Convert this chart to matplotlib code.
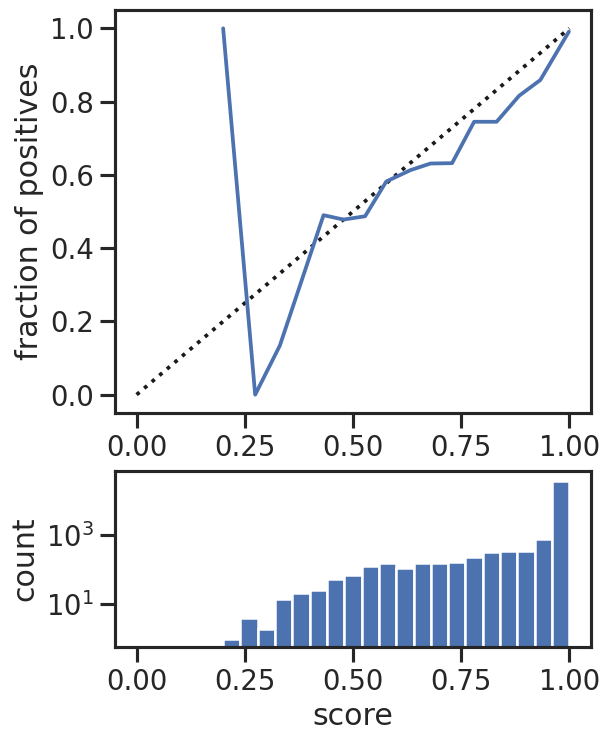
import matplotlib
matplotlib.use("Agg")
import matplotlib.pyplot as plt
import matplotlib.ticker as mticker
import seaborn as sns
import numpy as np

# calibration curve (mean predicted score per bin, fraction of positives)
mean_score = [0.200, 0.274, 0.331, 0.432, 0.478, 0.528, 0.577, 0.633,
              0.679, 0.729, 0.780, 0.832, 0.884, 0.933, 0.999]
frac_pos = [1.0, 0.0, 0.134, 0.490, 0.478, 0.487, 0.582, 0.613,
            0.631, 0.632, 0.745, 0.745, 0.816, 0.859, 0.991]

# score histogram, 20 bins between 0.2 and 1.0
hist_lo = 0.2
hist_hi = 1.0
hist_counts = [1, 4, 2, 14, 22, 26, 55, 70, 133, 158,
               114, 158, 158, 174, 237, 330, 361, 361, 776, 36800]

sns.set_theme(context="talk", style="ticks")
plt.rcParams['font.family'] = ['DejaVu Sans']
blue = sns.color_palette("deep")[0]

fig = plt.figure(figsize=(601/120, 732/120), dpi=120)
ax1 = fig.add_axes([0.1913, 0.4358, 0.792, 0.5505])
ax2 = fig.add_axes([0.1913, 0.1165, 0.792, 0.2395])

ax1.plot([0, 1], [0, 1], "k:")
ax1.plot(mean_score, frac_pos, color=blue)
ax1.set_ylabel("fraction of positives")
ax1.set_xticks([0, 0.25, 0.5, 0.75, 1.0])
ax1.set_yticks([0, 0.2, 0.4, 0.6, 0.8, 1.0])

edges = np.linspace(hist_lo, hist_hi, len(hist_counts) + 1)
centres = (edges[:-1] + edges[1:]) / 2
ax2.hist(centres, bins=edges, weights=hist_counts, color=blue,
         edgecolor="white", linewidth=1.5, log=True)
ax2.set_xlim(ax1.get_xlim())
ax2.set_ylim(0.6, 7e4)
ax2.set_xticks([0, 0.25, 0.5, 0.75, 1.0])
ax2.yaxis.set_major_locator(mticker.FixedLocator([10, 1000]))
ax2.yaxis.set_minor_locator(mticker.NullLocator())
ax2.set_xlabel("score")
ax2.set_ylabel("count")

fig.savefig("out.png", dpi=120)
